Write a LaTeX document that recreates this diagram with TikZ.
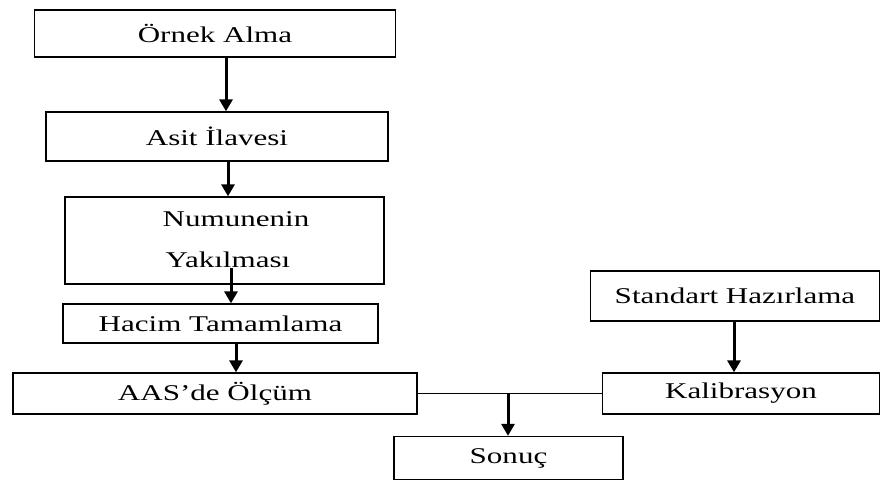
\documentclass[tikz,border=0pt]{standalone}
\usepackage{fontspec}
\setmainfont{Liberation Serif}[FakeStretch=1.38]
\usetikzlibrary{arrows.meta}
\begin{document}
\begin{tikzpicture}[x=1pt,y=-1pt,
 box/.style={draw,line width=1.3pt,inner sep=0pt,font=\fontsize{22.5}{27}\selectfont},
 flow/.style={line width=3pt,-{Triangle[width=13pt,length=12pt]}},
 link/.style={line width=1.2pt},
 txt/.style={font=\fontsize{22.5}{27}\selectfont,inner sep=0pt}]
\useasboundingbox (0,0) rectangle (881,481);
\node[box,minimum width=361pt,minimum height=47pt] (a) at (215,33.5) {Örnek Alma};
\node[box,minimum width=342pt,minimum height=49pt] (b) at (217,136.5) {Asit İlavesi};
\node[box,minimum width=319pt,minimum height=87pt] (c) at (224.5,240.5) {};
\node[txt,anchor=base] (c1) at (236,227) {Numunenin};
\node[txt,anchor=base] (c2) at (228,268) {Yakılması};
\node[box,minimum width=315pt,minimum height=39pt] (d) at (220.5,323.5) {Hacim Tamamlama};
\node[box,minimum width=404pt,minimum height=41pt] (e) at (215,393.5) {AAS’de Ölçüm};
\node[box,minimum width=289pt,minimum height=50pt] (f) at (735,296) {Standart Hazırlama};
\node[box,minimum width=277pt,minimum height=41pt] (g) at (741,393.5) {Kalibrasyon};
\node[box,minimum width=229pt,minimum height=43pt] (h) at (508.5,458) {Sonuç};
\coordinate (cs) at (231,268);
\coordinate (j) at (508,393.5);
\draw[flow] (a.south -| 226,0) -- (b.north -| 226,0);
\draw[flow] (b.south -| 228,0) -- (c.north -| 228,0);
\draw[flow] (cs) -- (d.north -| cs);
\draw[flow] (d.south -| 236,0) -- (e.north -| 236,0);
\draw[flow] (f.south -| 734,0) -- (g.north -| 734,0);
\draw[link] (e.east) -- (g.west);
\draw[flow] (j) -- (h.north -| j);
\end{tikzpicture}
\end{document}
